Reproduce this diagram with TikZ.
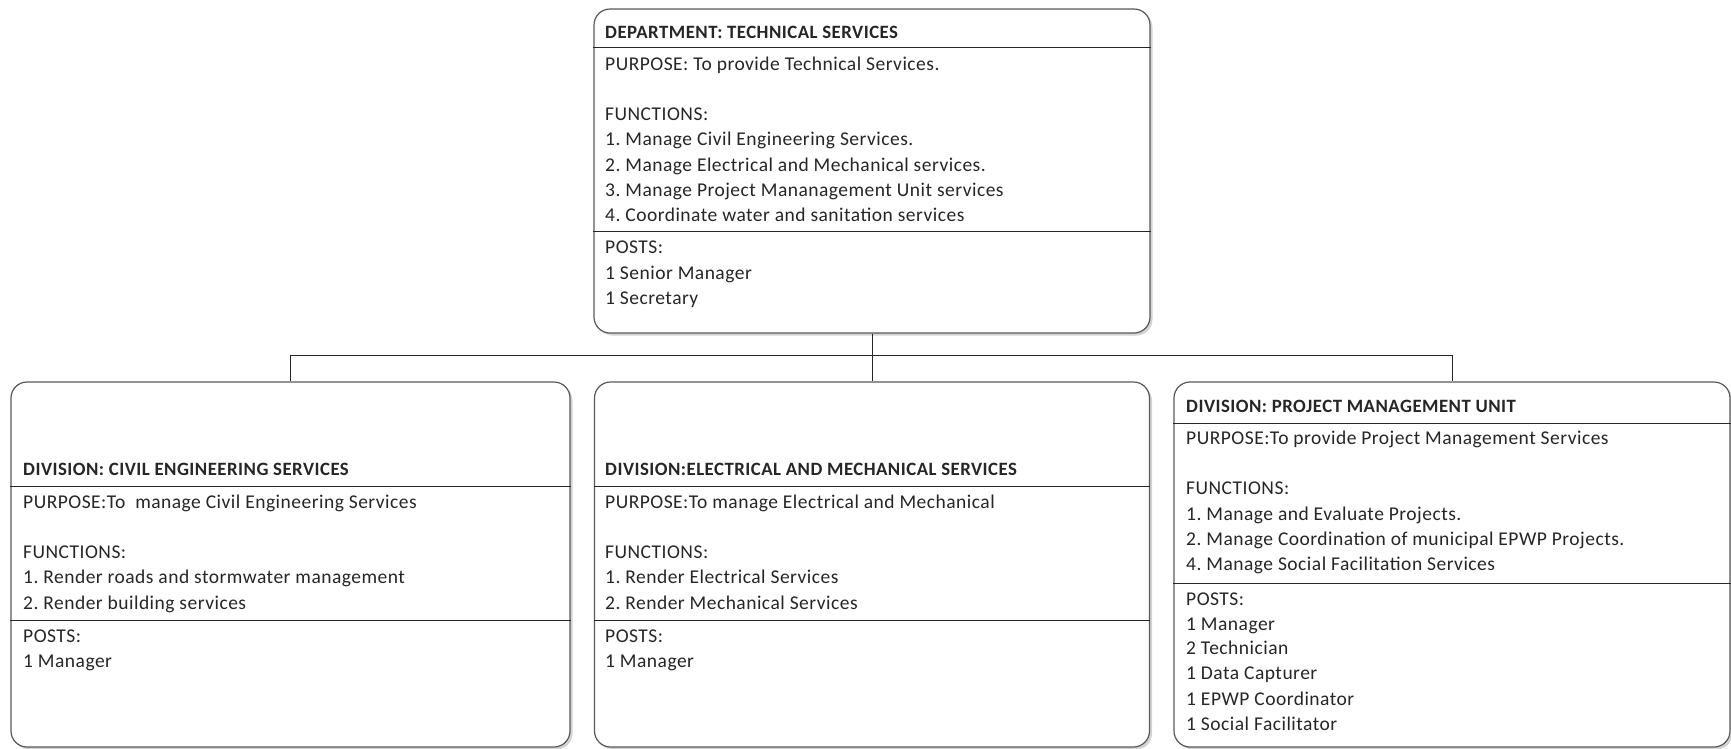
\documentclass[tikz,border=0pt]{standalone}
\usepackage{fontspec}
\setmainfont[LetterSpace=2.5]{Carlito}
\frenchspacing
\usetikzlibrary{shadows}

\tikzset{
  unitbox/.style={draw=black!65, line width=1.2pt, rounded corners=16pt, fill=white,
    drop shadow={shadow xshift=2.5pt, shadow yshift=-2.5pt, opacity=0.35}, inner sep=0pt},
  sepline/.style={draw=black!85, line width=1pt},
  conn/.style={draw=black!85, line width=1pt},
  txt/.style={anchor=base west, inner sep=0pt, text=black!85, font=\fontsize{19.5}{22}\selectfont},
  hdr/.style={txt, font=\fontsize{18.8}{22}\selectfont\bfseries},
}

\begin{document}
\begin{tikzpicture}[x=1pt,y=-1pt]
	\useasboundingbox (0,0) rectangle (1731,748);

	% department
	\node[unitbox, minimum width=556pt, minimum height=324pt] (dept) at (872,171) {};
	\node[hdr] (dept-h) at (605,38) {DEPARTMENT: TECHNICAL SERVICES};
	\draw[sepline] (dept.west |- 0,47.5) -- (dept.east |- 0,47.5);
	\foreach \y/\t [count=\i] in {70/PURPOSE: To provide Technical Services.,
			120/FUNCTIONS:, 145/1. Manage Civil Engineering Services.,
			171/2. Manage Electrical and Mechanical services.,
			196/3. Manage Project Mananagement Unit services,
			221/4. Coordinate water and sanitation services} {
			\node[txt] (dept-f\i) at (605,\y) {\t};
		}
	\draw[sepline] (dept.west |- 0,231) -- (dept.east |- 0,231);
	\foreach \y/\t [count=\i] in {253/POSTS:, 279/1 Senior Manager, 304/1 Secretary} {
			\node[txt] (dept-p\i) at (605,\y) {\t};
		}

	% divisions
	\node[unitbox, minimum width=559pt, minimum height=365pt] (civil) at (290.5,564.5) {};
	\node[unitbox, minimum width=555pt, minimum height=365pt] (elec) at (872,564.5) {};
	\node[unitbox, minimum width=556pt, minimum height=365pt] (pmu) at (1452,564.5) {};

	% civil engineering
	\node[hdr] (civil-h) at (23,475) {DIVISION: CIVIL ENGINEERING SERVICES};
	\draw[sepline] (civil.west |- 0,486) -- (civil.east |- 0,486);
	\foreach \y/\t [count=\i] in {508/PURPOSE:To\ \ manage Civil Engineering Services,
			558/FUNCTIONS:, 583/1. Render roads and stormwater management,
			609/2. Render building services} {
			\node[txt] (civil-f\i) at (23,\y) {\t};
		}
	\draw[sepline] (civil.west |- 0,620) -- (civil.east |- 0,620);
	\foreach \y/\t [count=\i] in {642/POSTS:, 667/1 Manager} {
			\node[txt] (civil-p\i) at (23,\y) {\t};
		}

	% electrical and mechanical
	\node[hdr] (elec-h) at (605,475) {DIVISION:ELECTRICAL AND MECHANICAL SERVICES};
	\draw[sepline] (elec.west |- 0,486) -- (elec.east |- 0,486);
	\foreach \y/\t [count=\i] in {508/PURPOSE:To manage Electrical and Mechanical,
			558/FUNCTIONS:, 583/1. Render Electrical Services,
			609/2. Render Mechanical Services} {
			\node[txt] (elec-f\i) at (605,\y) {\t};
		}
	\draw[sepline] (elec.west |- 0,620) -- (elec.east |- 0,620);
	\foreach \y/\t [count=\i] in {642/POSTS:, 667/1 Manager} {
			\node[txt] (elec-p\i) at (605,\y) {\t};
		}

	% project management unit
	\node[hdr] (pmu-h) at (1186,412) {DIVISION: PROJECT MANAGEMENT UNIT};
	\draw[sepline] (pmu.west |- 0,423) -- (pmu.east |- 0,423);
	\foreach \y/\t [count=\i] in {444/PURPOSE:To provide Project Management Services,
			494/FUNCTIONS:, 520/1. Manage and Evaluate Projects.,
			545/2. Manage Coordination of municipal EPWP Projects.,
			570/4. Manage Social Facilitation Services} {
			\node[txt] (pmu-f\i) at (1186,\y) {\t};
		}
	\draw[sepline] (pmu.west |- 0,583) -- (pmu.east |- 0,583);
	\foreach \y/\t [count=\i] in {605/POSTS:, 630/1 Manager, 654/2 Technician,
			679/1 Data Capturer, 705/1 EPWP Coordinator, 730/1 Social Facilitator} {
			\node[txt] (pmu-p\i) at (1186,\y) {\t};
		}

	% connectors
	\path (dept.south) ++(0,22) coordinate (bus);
	\draw[conn] (dept.south) -- (bus) -| (civil.north);
	\draw[conn] (bus) -| (pmu.north);
	\draw[conn] (bus) -- (elec.north);
\end{tikzpicture}
\end{document}
